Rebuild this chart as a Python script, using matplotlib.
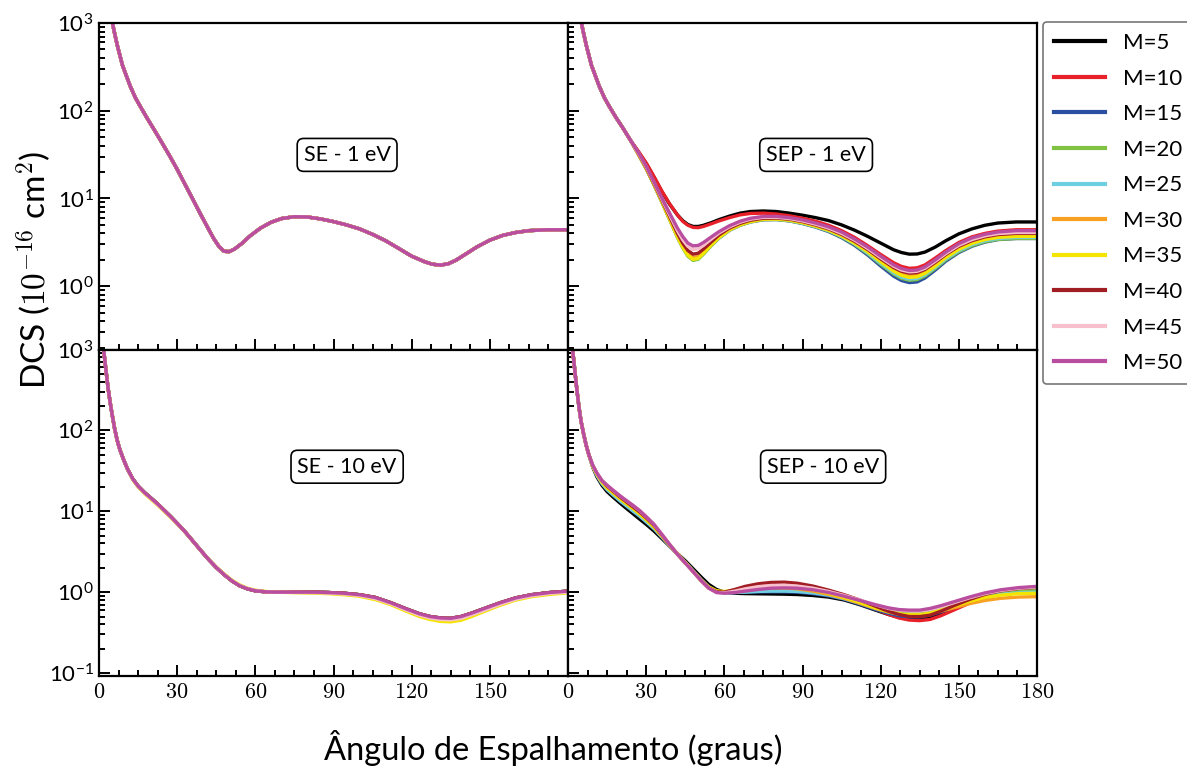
import matplotlib
matplotlib.use("Agg")
import matplotlib.pyplot as plt
from matplotlib.ticker import FuncFormatter, LogLocator, MultipleLocator, NullFormatter

plt.rcParams["font.family"] = ["Lato", "DejaVu Sans"]
plt.rcParams["mathtext.fontset"] = "cm"

M_LABELS = ["M=5", "M=10", "M=15", "M=20", "M=25", "M=30", "M=35", "M=40", "M=45", "M=50"]
COLORS = ["#000000", "#e8202a", "#2b4fa0", "#80c242", "#6ecfe0",
          "#f7a021", "#f4e500", "#a11d24", "#f7c0cc", "#b94ea0"]

# ---- 1 eV panels -------------------------------------------------------
X_1EV_HEAD = [3, 4, 5, 6, 7, 8, 9, 10.5, 12, 14, 16, 18.5, 21, 24]
X_1EV_TAIL = [27, 30, 33, 36, 39, 42, 44, 46, 48, 50, 52, 55, 58, 62, 66, 70, 75, 80, 85,
              90, 95, 100, 105, 110, 115, 120, 125, 128, 131, 134, 137, 141, 145, 150,
              155, 160, 165, 172, 180]

SE_1EV_HEAD = [1800, 1350, 1050, 760, 560, 430, 330, 250, 190, 140, 110, 82, 62, 44]
SEP_1EV_HEAD = [1800, 1350, 1050, 760, 560, 430, 330, 250, 190, 140, 110, 83, 64, 46]

SE_1EV = [31, 21.5, 14.5, 9.8, 6.6, 4.5, 3.5, 2.85, 2.5, 2.48, 2.65, 3.1, 3.75, 4.6, 5.35,
          5.9, 6.2, 6.15, 5.85, 5.45, 5.0, 4.5, 3.9, 3.3, 2.7, 2.2, 1.9, 1.78, 1.74, 1.8,
          1.98, 2.35, 2.8, 3.35, 3.8, 4.1, 4.3, 4.4, 4.4]

SEP_1EV_M5 = [34, 25, 17.5, 12, 8.6, 6.5, 5.6, 5.05, 4.8, 4.8, 4.95, 5.3, 5.75, 6.3, 6.8,
              7.1, 7.2, 7.1, 6.8, 6.45, 6.05, 5.6, 5.0, 4.35, 3.7, 3.1, 2.6, 2.42, 2.32, 2.33,
              2.45, 2.8, 3.3, 3.95, 4.5, 4.95, 5.25, 5.4, 5.4]
SEP_1EV_M10 = [34.5, 25.5, 17.8, 12.2, 8.7, 6.5, 5.5, 4.95, 4.68, 4.65, 4.8, 5.15, 5.55, 6.05,
               6.5, 6.75, 6.8, 6.65, 6.35, 5.95, 5.5, 4.95, 4.3, 3.6, 2.9, 2.3, 1.85, 1.68,
               1.6, 1.62, 1.75, 2.1, 2.55, 3.15, 3.65, 4.0, 4.25, 4.4, 4.4]
SEP_1EV_M15 = [32, 22, 14.4, 9.2, 5.8, 3.65, 2.8, 2.25, 2.0, 2.06, 2.35, 2.92, 3.55, 4.35,
               4.95, 5.4, 5.72, 5.75, 5.55, 5.18, 4.72, 4.2, 3.58, 2.92, 2.27, 1.7, 1.3, 1.16,
               1.1, 1.12, 1.24, 1.53, 1.93, 2.42, 2.85, 3.18, 3.4, 3.5, 3.5]
SEP_1EV_M20 = [32, 22, 14.3, 9.1, 5.75, 3.6, 2.75, 2.2, 1.97, 2.03, 2.32, 2.9, 3.55, 4.35,
               4.95, 5.4, 5.75, 5.77, 5.57, 5.22, 4.77, 4.27, 3.65, 3.0, 2.35, 1.78, 1.38,
               1.23, 1.17, 1.19, 1.31, 1.6, 2.0, 2.48, 2.9, 3.22, 3.42, 3.5, 3.5]
SEP_1EV_M25 = [32, 22, 14.4, 9.2, 5.85, 3.7, 2.85, 2.3, 2.06, 2.12, 2.4, 2.95, 3.6, 4.4,
               5.0, 5.45, 5.78, 5.8, 5.6, 5.25, 4.8, 4.3, 3.7, 3.05, 2.4, 1.83, 1.42, 1.27,
               1.21, 1.23, 1.35, 1.65, 2.05, 2.55, 2.98, 3.3, 3.5, 3.6, 3.6]
SEP_1EV_M30 = [32, 22, 14.5, 9.3, 5.9, 3.75, 2.9, 2.35, 2.12, 2.18, 2.45, 3.0, 3.65, 4.45,
               5.05, 5.5, 5.85, 5.88, 5.7, 5.35, 4.9, 4.4, 3.8, 3.15, 2.52, 1.95, 1.53, 1.38,
               1.31, 1.33, 1.45, 1.76, 2.18, 2.7, 3.15, 3.48, 3.7, 3.8, 3.8]
SEP_1EV_M35 = [32, 22, 14.4, 9.2, 5.8, 3.65, 2.8, 2.25, 2.02, 2.08, 2.37, 2.95, 3.6, 4.4,
               5.0, 5.45, 5.8, 5.83, 5.65, 5.3, 4.85, 4.35, 3.75, 3.1, 2.47, 1.9, 1.48, 1.33,
               1.26, 1.28, 1.4, 1.7, 2.12, 2.63, 3.07, 3.4, 3.6, 3.7, 3.7]
SEP_1EV_M40 = [32.5, 22.5, 14.8, 9.6, 6.2, 4.0, 3.1, 2.55, 2.32, 2.38, 2.65, 3.2, 3.85, 4.6,
               5.2, 5.65, 5.95, 5.98, 5.8, 5.45, 5.0, 4.5, 3.9, 3.25, 2.62, 2.05, 1.63, 1.48,
               1.41, 1.43, 1.55, 1.87, 2.3, 2.85, 3.3, 3.65, 3.88, 4.0, 4.0]
SEP_1EV_M45 = [33, 23, 15.2, 9.9, 6.5, 4.3, 3.4, 2.85, 2.62, 2.68, 2.92, 3.45, 4.05, 4.75,
               5.35, 5.8, 6.1, 6.1, 5.9, 5.55, 5.1, 4.6, 4.0, 3.35, 2.7, 2.12, 1.69, 1.53,
               1.46, 1.48, 1.6, 1.93, 2.36, 2.93, 3.4, 3.75, 3.98, 4.1, 4.1]
SEP_1EV_M50 = [33.5, 23.5, 15.5, 10.2, 6.8, 4.6, 3.7, 3.1, 2.88, 2.92, 3.15, 3.65, 4.2, 4.9,
               5.5, 5.95, 6.25, 6.25, 6.05, 5.7, 5.25, 4.75, 4.15, 3.45, 2.8, 2.2, 1.75, 1.59,
               1.51, 1.53, 1.66, 2.0, 2.45, 3.05, 3.55, 3.9, 4.15, 4.3, 4.3]

# ---- 10 eV panels ------------------------------------------------------
X_10EV_HEAD = [1.5, 2, 2.5, 3, 3.5, 4.25, 5, 6, 7, 8]
X_10EV_TAIL = [9.5, 11, 13, 15, 17.5, 20, 22.5, 25, 27.5, 30, 33, 36, 39, 42, 45, 48, 51,
               54, 57, 60, 64, 68, 73, 78, 83, 88, 94, 100, 106, 112, 118, 123, 127, 131,
               135, 139, 143, 148, 154, 160, 166, 173, 180]

SE_10EV_HEAD = [1150, 860, 620, 450, 330, 225, 160, 105, 75, 58]
SE_10EV = [43, 33, 25, 20.5, 17, 14.5, 12.3, 10.3, 8.6, 7.1, 5.6, 4.3, 3.3, 2.55, 2.02,
           1.65, 1.38, 1.2, 1.1, 1.04, 1.01, 1.0, 1.0, 1.0, 1.0, 0.99, 0.97, 0.93, 0.86,
           0.74, 0.62, 0.54, 0.5, 0.48, 0.475, 0.5, 0.55, 0.63, 0.74, 0.85, 0.93, 0.99, 1.03]
SE_10EV_M35 = [43, 33, 24.5, 20, 16.5, 14, 11.9, 10, 8.4, 7.0, 5.55, 4.3, 3.3, 2.57, 2.05,
               1.68, 1.41, 1.23, 1.12, 1.06, 1.02, 1.0, 0.99, 0.98, 0.97, 0.96, 0.93, 0.89,
               0.81, 0.7, 0.58, 0.5, 0.46, 0.435, 0.43, 0.45, 0.5, 0.58, 0.69, 0.8, 0.88,
               0.94, 0.98]
SE_10EV_M45 = [43, 33, 24.8, 20.3, 16.8, 14.3, 12.1, 10.2, 8.5, 7.05, 5.6, 4.3, 3.3, 2.56,
               2.03, 1.66, 1.39, 1.21, 1.11, 1.05, 1.01, 1.0, 0.995, 0.99, 0.985, 0.975,
               0.95, 0.91, 0.835, 0.72, 0.6, 0.52, 0.48, 0.46, 0.455, 0.475, 0.525, 0.6,
               0.71, 0.82, 0.9, 0.965, 1.0]

SEP_10EV_HEAD = [1250, 850, 600, 420, 300, 190, 130, 90, 65, 50]
SEP_10EV_M5 = [35, 27, 21, 17.5, 14.8, 12.6, 10.8, 9.3, 8.0, 6.9, 5.7, 4.6, 3.7, 3.0, 2.45,
               1.95, 1.55, 1.25, 1.08, 1.0, 0.97, 0.96, 0.955, 0.95, 0.945, 0.935, 0.91,
               0.87, 0.8, 0.7, 0.6, 0.53, 0.49, 0.465, 0.46, 0.48, 0.53, 0.62, 0.74, 0.86,
               0.95, 1.0, 1.03]
SEP_10EV_M10 = [36, 28.5, 22.5, 19, 16.2, 14, 12.1, 10.5, 9.1, 7.8, 6.3, 4.9, 3.8, 2.95,
                2.32, 1.82, 1.43, 1.16, 1.03, 1.0, 1.06, 1.11, 1.17, 1.2, 1.2, 1.17, 1.1,
                1.0, 0.88, 0.75, 0.62, 0.53, 0.48, 0.452, 0.445, 0.46, 0.51, 0.6, 0.73,
                0.86, 0.97, 1.05, 1.1]
SEP_10EV_M15 = [36, 28.5, 22.5, 19, 16.2, 13.9, 12.0, 10.4, 9.0, 7.7, 6.3, 4.9, 3.8, 2.97,
                2.35, 1.85, 1.45, 1.17, 1.03, 0.99, 0.99, 1.0, 1.01, 1.01, 1.01, 1.0, 0.96,
                0.9, 0.82, 0.71, 0.61, 0.55, 0.51, 0.495, 0.495, 0.52, 0.57, 0.65, 0.76,
                0.87, 0.95, 1.0, 1.02]
SEP_10EV_M20 = [36, 29, 23, 19.5, 16.7, 14.3, 12.4, 10.8, 9.3, 7.9, 6.4, 4.95, 3.8, 2.95,
                2.32, 1.82, 1.42, 1.14, 1.01, 0.99, 1.01, 1.04, 1.07, 1.08, 1.08, 1.07, 1.02,
                0.95, 0.86, 0.76, 0.66, 0.6, 0.565, 0.55, 0.55, 0.575, 0.625, 0.7, 0.8,
                0.9, 0.98, 1.03, 1.06]
SEP_10EV_M25 = [35.5, 28, 22, 18.5, 15.7, 13.4, 11.6, 10.0, 8.7, 7.4, 6.1, 4.8, 3.75, 2.95,
                2.33, 1.83, 1.43, 1.15, 1.01, 0.98, 0.99, 1.0, 1.02, 1.03, 1.03, 1.02, 0.98,
                0.92, 0.83, 0.73, 0.63, 0.57, 0.535, 0.52, 0.52, 0.545, 0.595, 0.67, 0.77,
                0.87, 0.94, 0.98, 1.0]
SEP_10EV_M30 = [36, 29, 23, 19.5, 16.7, 14.3, 12.4, 10.8, 9.3, 7.9, 6.4, 4.95, 3.8, 2.95,
                2.3, 1.8, 1.4, 1.13, 1.01, 1.0, 1.04, 1.08, 1.12, 1.13, 1.13, 1.1, 1.03,
                0.94, 0.84, 0.73, 0.63, 0.57, 0.535, 0.52, 0.52, 0.54, 0.58, 0.64, 0.72,
                0.79, 0.84, 0.87, 0.88]
SEP_10EV_M35 = [36, 29, 23, 19.5, 16.7, 14.3, 12.4, 10.8, 9.3, 7.9, 6.4, 5.0, 3.85, 3.0,
                2.35, 1.83, 1.43, 1.16, 1.04, 1.02, 1.06, 1.11, 1.16, 1.18, 1.18, 1.15, 1.07,
                0.97, 0.86, 0.75, 0.64, 0.575, 0.54, 0.525, 0.525, 0.55, 0.6, 0.67, 0.77,
                0.86, 0.92, 0.96, 0.97]
SEP_10EV_M40 = [37, 30, 24, 20.5, 17.5, 15, 13, 11.3, 9.8, 8.3, 6.7, 5.1, 3.85, 2.95, 2.3,
                1.8, 1.4, 1.13, 1.01, 1.0, 1.08, 1.18, 1.27, 1.32, 1.33, 1.29, 1.19, 1.06,
                0.93, 0.8, 0.67, 0.58, 0.53, 0.5, 0.5, 0.52, 0.58, 0.68, 0.81, 0.94, 1.04,
                1.11, 1.15]
SEP_10EV_M45 = [37, 30, 24, 21, 18, 15.5, 13.5, 11.8, 10.2, 8.6, 6.9, 5.2, 3.9, 2.95, 2.3,
                1.8, 1.4, 1.12, 0.99, 0.98, 1.03, 1.1, 1.17, 1.21, 1.22, 1.19, 1.12, 1.02,
                0.91, 0.8, 0.7, 0.63, 0.6, 0.585, 0.585, 0.61, 0.66, 0.74, 0.85, 0.96, 1.05,
                1.12, 1.16]
SEP_10EV_M50 = [37, 30, 24, 21, 18, 15.5, 13.5, 11.8, 10.2, 8.6, 6.9, 5.2, 3.9, 2.95, 2.3,
                1.8, 1.4, 1.12, 0.99, 0.97, 0.99, 1.03, 1.08, 1.12, 1.13, 1.12, 1.07, 0.99,
                0.89, 0.79, 0.7, 0.64, 0.61, 0.6, 0.6, 0.63, 0.68, 0.76, 0.87, 0.98, 1.07,
                1.14, 1.18]

SEP_1EV = [SEP_1EV_M5, SEP_1EV_M10, SEP_1EV_M15, SEP_1EV_M20, SEP_1EV_M25,
           SEP_1EV_M30, SEP_1EV_M35, SEP_1EV_M40, SEP_1EV_M45, SEP_1EV_M50]
SEP_10EV = [SEP_10EV_M5, SEP_10EV_M10, SEP_10EV_M15, SEP_10EV_M20, SEP_10EV_M25,
            SEP_10EV_M30, SEP_10EV_M35, SEP_10EV_M40, SEP_10EV_M45, SEP_10EV_M50]


def style(ax, ylim, show_y, show_x, drop_last):
    ax.set_xlim(0, 180)
    ax.set_yscale("log")
    ax.set_ylim(*ylim)
    ax.xaxis.set_major_locator(MultipleLocator(30))
    ax.xaxis.set_minor_locator(MultipleLocator(7.5))
    ax.yaxis.set_major_locator(LogLocator(base=10, numticks=12))
    ax.yaxis.set_minor_locator(LogLocator(base=10, subs=range(2, 10), numticks=30))
    ax.yaxis.set_minor_formatter(NullFormatter())
    ax.tick_params(which="both", direction="in", top=False, right=False, width=1.4,
                   labelsize=16, pad=4)
    ax.tick_params(which="major", length=8)
    ax.tick_params(which="minor", length=4)
    for spine in ax.spines.values():
        spine.set_linewidth(1.6)
    if not show_y:
        ax.tick_params(labelleft=False)
    if show_x:
        ax.xaxis.set_major_formatter(FuncFormatter(
            lambda v, p: "" if (drop_last and v >= 179) else f"${v:.0f}$"))
    else:
        ax.tick_params(labelbottom=False)


def label_box(ax, x, y, text):
    ax.text(x, y, text, transform=ax.transAxes, ha="center", va="center", fontsize=15.5,
            bbox=dict(boxstyle="round,pad=0.3", fc="white", ec="black", lw=1.2))


fig = plt.figure(figsize=(11.87, 7.69), dpi=100)
gs = fig.add_gridspec(2, 2, left=99 / 1187, right=1037 / 1187, top=1 - 23 / 769,
                      bottom=1 - 676 / 769, hspace=0, wspace=0)
ax_se1 = fig.add_subplot(gs[0, 0])
ax_sep1 = fig.add_subplot(gs[0, 1])
ax_se10 = fig.add_subplot(gs[1, 0])
ax_sep10 = fig.add_subplot(gs[1, 1])

x1 = X_1EV_HEAD + X_1EV_TAIL
x10 = X_10EV_HEAD + X_10EV_TAIL
lw = 2.4

for i, (lab, col) in enumerate(zip(M_LABELS, COLORS)):
    ax_se1.plot(x1, SE_1EV_HEAD + SE_1EV, color=col, lw=lw, label=lab)
    ax_sep1.plot(x1, SEP_1EV_HEAD + SEP_1EV[i], color=col, lw=lw, label=lab)
    if lab == "M=35":
        se10 = SE_10EV_M35
    elif lab == "M=45":
        se10 = SE_10EV_M45
    else:
        se10 = SE_10EV
    ax_se10.plot(x10, SE_10EV_HEAD + se10, color=col, lw=lw, label=lab)
    ax_sep10.plot(x10, SEP_10EV_HEAD + SEP_10EV[i], color=col, lw=lw, label=lab)

style(ax_se1, (0.19, 1000), True, False, False)
style(ax_sep1, (0.19, 1000), False, False, False)
style(ax_se10, (0.092, 1000), True, True, True)
style(ax_sep10, (0.092, 1000), False, True, False)

label_box(ax_se1, 0.529, 0.596, "SE - 1 eV")
label_box(ax_sep1, 0.529, 0.596, "SEP - 1 eV")
label_box(ax_se10, 0.529, 0.641, "SE - 10 eV")
label_box(ax_sep10, 0.544, 0.641, "SEP - 10 eV")

handles, labels = ax_sep1.get_legend_handles_labels()
leg = fig.legend(handles, labels, loc="upper left", bbox_to_anchor=(1043 / 1187, 1 - 22 / 769),
                 fontsize=16, frameon=True, fancybox=True, edgecolor="#555555",
                 handlelength=2.3, handletextpad=0.8, labelspacing=0.7, borderpad=0.5,
                 borderaxespad=0)
leg.get_frame().set_linewidth(1.2)
for line in leg.get_lines():
    line.set_linewidth(3)

fig.text(553 / 1187, 1 - 748 / 769, "Ângulo de Espalhamento (graus)", ha="center",
         va="center", fontsize=23.5)
fig.text(34 / 1187, 1 - 270 / 769,
         r"DCS ($\mathbf{10}^{\mathbf{-16}}$ cm$^{\mathbf{2}}$)",
         rotation=90, ha="center", va="center", fontsize=24)

fig.savefig("out.png", dpi=100, facecolor="white")
